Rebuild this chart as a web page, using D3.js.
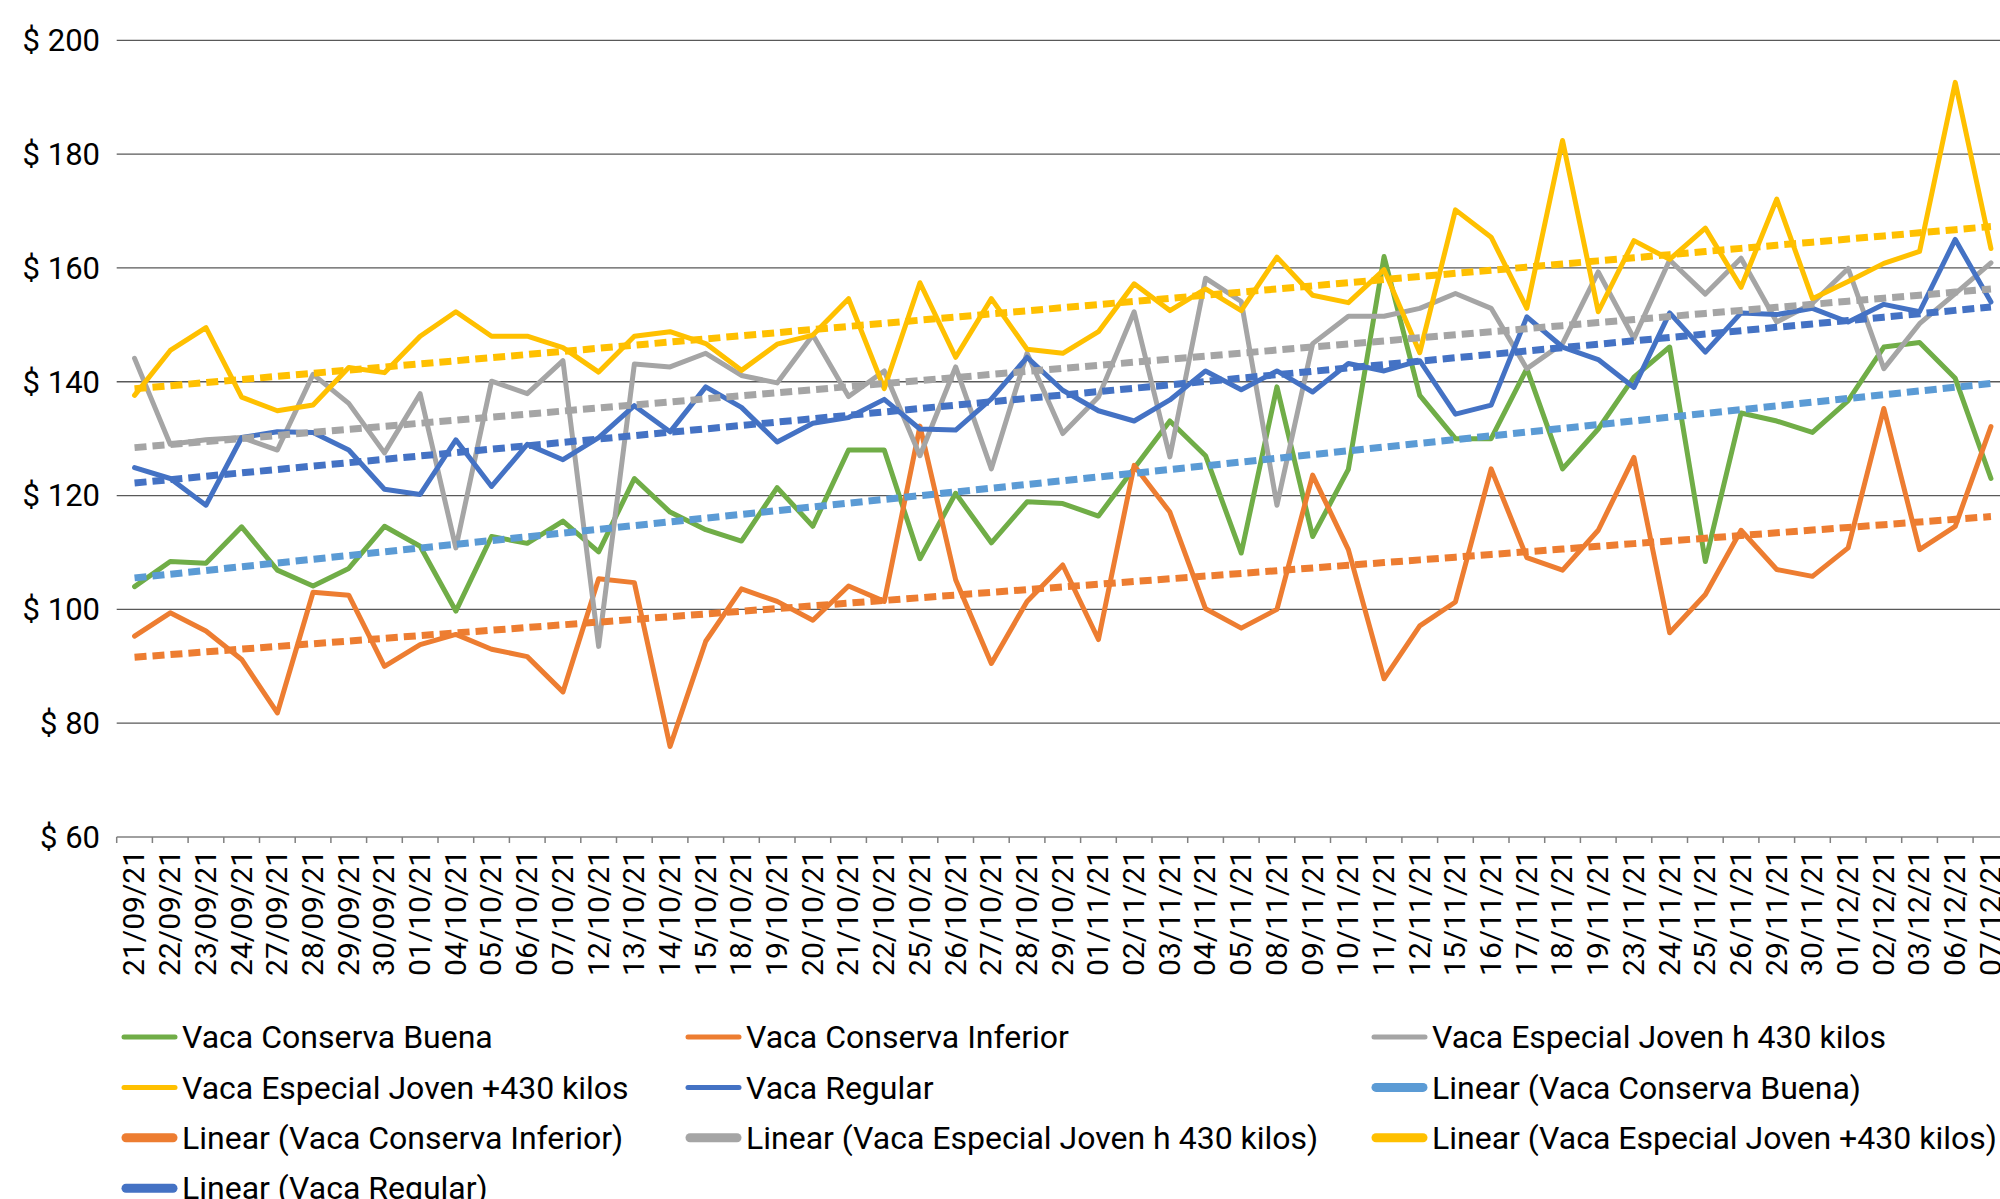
<!DOCTYPE html>
<html>
<head>
<meta charset="utf-8">
<script src="https://cdn.jsdelivr.net/npm/d3@7/dist/d3.min.js"></script>
<style>
    body { margin: 0; background: #fff; }
    svg text { font-family: Roboto, 'Noto Sans', sans-serif; fill: #000; }
</style>
</head>
<body>
<div id="chart"></div>
<script>
///// DATA
const dates = ['21/09/21', '22/09/21', '23/09/21', '24/09/21', '27/09/21', '28/09/21', '29/09/21', '30/09/21',
    '01/10/21', '04/10/21', '05/10/21', '06/10/21', '07/10/21', '12/10/21', '13/10/21', '14/10/21', '15/10/21',
    '18/10/21', '19/10/21', '20/10/21', '21/10/21', '22/10/21', '25/10/21', '26/10/21', '27/10/21', '28/10/21',
    '29/10/21', '01/11/21', '02/11/21', '03/11/21', '04/11/21', '05/11/21', '08/11/21', '09/11/21', '10/11/21',
    '11/11/21', '12/11/21', '15/11/21', '16/11/21', '17/11/21', '18/11/21', '19/11/21', '23/11/21', '24/11/21',
    '25/11/21', '26/11/21', '29/11/21', '30/11/21', '01/12/21', '02/12/21', '03/12/21', '06/12/21', '07/12/21'];

const conservaBuena = [104.0, 108.4, 108.1, 114.5, 106.9, 104.1, 107.2, 114.6, 111.1, 99.7,
    112.8, 111.6, 115.5, 110.1, 123.0, 117.1, 114.0, 112.0, 121.4, 114.6,
    128.0, 128.0, 108.9, 120.4, 111.7, 118.9, 118.6, 116.4, 124.8, 133.1,
    127.0, 109.9, 139.1, 112.8, 124.6, 162.0, 137.6, 130.0, 130.0, 142.3,
    124.7, 131.7, 140.8, 146.1, 108.4, 134.5, 133.1, 131.1, 136.7, 146.1,
    146.9, 140.6, 123.0];

const conservaInferior = [95.3, 99.4, 96.2, 91.2, 81.8, 103.0, 102.5, 90.0, 93.8, 95.6,
    93.0, 91.7, 85.5, 105.4, 104.7, 75.9, 94.4, 103.6, 101.4, 98.1,
    104.1, 101.4, 132.2, 105.2, 90.5, 101.4, 107.8, 94.7, 125.3, 117.1,
    100.1, 96.7, 100.0, 123.6, 110.5, 87.8, 97.1, 101.3, 124.7, 109.1,
    106.9, 113.9, 126.7, 95.9, 102.6, 113.9, 107.0, 105.8, 110.8, 135.3,
    110.5, 114.6, 132.1];

const especialHasta430 = [144.1, 129.0, 129.8, 130.2, 128.0, 141.3, 136.2, 127.5, 137.9, 110.8,
    140.1, 137.9, 143.7, 93.5, 143.1, 142.6, 145.0, 141.1, 139.8, 148.2,
    137.4, 141.9, 127.0, 142.6, 124.7, 145.0, 130.9, 137.3, 152.3, 126.8,
    158.2, 154.1, 118.3, 146.7, 151.5, 151.5, 152.9, 155.5, 152.9, 142.3,
    146.7, 159.3, 147.6, 161.4, 155.4, 161.7, 150.5, 153.8, 159.9, 142.3,
    150.2, 155.5, 160.9];

const especialMas430 = [137.6, 145.5, 149.5, 137.3, 134.9, 135.9, 142.5, 141.6, 148.0, 152.3,
    148.0, 148.0, 146.0, 141.7, 148.0, 148.8, 146.7, 142.0, 146.6, 148.2,
    154.6, 138.8, 157.4, 144.3, 154.6, 145.7, 145.0, 148.8, 157.2, 152.5,
    156.3, 152.5, 161.9, 155.2, 153.9, 159.7, 145.1, 170.2, 165.4, 152.9,
    182.4, 152.3, 164.8, 161.5, 167.0, 156.6, 172.1, 154.6, 157.6, 160.8,
    162.9, 192.6, 163.4];

const vacaRegular = [124.9, 123.0, 118.3, 130.2, 131.2, 131.1, 128.0, 121.1, 120.2, 129.8,
    121.6, 129.0, 126.3, 130.2, 135.8, 131.2, 139.1, 135.5, 129.4, 132.7,
    133.7, 136.9, 131.7, 131.5, 137.0, 144.3, 138.5, 134.9, 133.1, 136.8,
    141.9, 138.6, 141.9, 138.2, 143.2, 141.9, 143.7, 134.3, 135.9, 151.4,
    146.1, 143.9, 139.0, 152.1, 145.2, 152.1, 151.8, 152.9, 150.5, 153.6,
    152.3, 165.0, 154.0];

const yTicks = [60, 80, 100, 120, 140, 160, 180, 200];

const seriesNames = ['Vaca Conserva Buena', 'Vaca Conserva Inferior', 'Vaca Especial Joven h 430 kilos',
    'Vaca Especial Joven +430 kilos', 'Vaca Regular'];
const seriesValues = [conservaBuena, conservaInferior, especialHasta430, especialMas430, vacaRegular];
const seriesColors = ['#70AD47', '#ED7D31', '#A5A5A5', '#FFC000', '#4472C4'];
const trendColors = ['#5B9BD5', '#ED7D31', '#A5A5A5', '#FFC000', '#4472C4'];

///// LINEAR TREND (least squares on category index, like excel)
function linearTrend(vals) {
    const xs = vals.map((d, i) => i + 1);
    const mx = d3.mean(xs);
    const my = d3.mean(vals);
    let num = 0, den = 0;
    xs.forEach((x, i) => {
        num += (x - mx) * (vals[i] - my);
        den += (x - mx) * (x - mx);
    });
    const slope = num / den;
    const icpt = my - slope * mx;
    return xs.map(x => icpt + slope * x);
}

const WIDTH = 2000;
const HEIGHT = 1199;
const PLOT = { left: 116.7, top: 40.3, bottom: 837, band: 35.7 };

// MAIN SVG
const svg = d3.select('#chart').append('svg')
    .attr('width', WIDTH)
    .attr('height', HEIGHT);

svg.append('rect').attr('width', WIDTH).attr('height', HEIGHT).attr('fill', '#fff');

// SCALES
const x = d3.scaleBand()
    .domain(dates)
    .range([PLOT.left, PLOT.left + dates.length * PLOT.band])
    .padding(0);

const y = d3.scaleLinear()
    .domain([60, 200])
    .range([PLOT.bottom, PLOT.top]);

const xMid = d => x(d) + x.bandwidth() / 2;

// GRIDLINES
svg.append('g').attr('class', 'grid')
    .selectAll('line')
    .data(yTicks.filter(t => t !== 60))
    .enter()
    .append('line')
    .attr('x1', PLOT.left)
    .attr('x2', WIDTH)
    .attr('y1', d => y(d))
    .attr('y2', d => y(d))
    .attr('stroke', '#595959')
    .attr('stroke-width', 1.3);

// Y LABELS
svg.append('g').attr('class', 'y-labels')
    .selectAll('text')
    .data(yTicks)
    .enter()
    .append('text')
    .attr('x', 100)
    .attr('y', d => y(d))
    .attr('dy', '0.35em')
    .attr('text-anchor', 'end')
    .style('font-size', '31px')
    .text(d => '$ ' + d);

// X AXIS LINE + TICKS (between categories)
const xAxisG = svg.append('g').attr('class', 'x-axis');

xAxisG.append('line')
    .attr('x1', PLOT.left)
    .attr('x2', WIDTH)
    .attr('y1', y(60))
    .attr('y2', y(60))
    .attr('stroke', '#808080')
    .attr('stroke-width', 1.5);

xAxisG.selectAll('.tick-mark')
    .data(dates)
    .enter()
    .append('line')
    .attr('class', 'tick-mark')
    .attr('x1', d => x(d))
    .attr('x2', d => x(d))
    .attr('y1', y(60))
    .attr('y2', y(60) + 6)
    .attr('stroke', '#808080')
    .attr('stroke-width', 1.5);

// X LABELS
const xAxisCall = d3.axisBottom(x).tickSize(0).tickPadding(0);
const xLabels = svg.append('g')
    .attr('transform', `translate(0, ${y(60)})`)
    .call(xAxisCall);

xLabels.select('.domain').remove();
xLabels.selectAll('text')
    .attr('transform', 'rotate(-90)')
    .attr('x', -13)
    .attr('y', 0)
    .attr('dy', '0.33em')
    .attr('text-anchor', 'end')
    .attr('fill', '#000')
    .style('font-size', '30px')
    .style('font-family', 'Roboto, sans-serif');

// SERIES LINES
const line = d3.line()
    .x((d, i) => xMid(dates[i]))
    .y(d => y(d));

svg.append('g').attr('class', 'series')
    .selectAll('path')
    .data(seriesValues)
    .enter()
    .append('path')
    .attr('d', d => line(d))
    .attr('fill', 'none')
    .attr('stroke', (d, i) => seriesColors[i])
    .attr('stroke-width', 5)
    .attr('stroke-linejoin', 'round')
    .attr('stroke-linecap', 'round');

// TRENDLINES
svg.append('g').attr('class', 'trends')
    .selectAll('path')
    .data(seriesValues.map(linearTrend))
    .enter()
    .append('path')
    .attr('d', d => line(d))
    .attr('fill', 'none')
    .attr('stroke', (d, i) => trendColors[i])
    .attr('stroke-width', 7)
    .attr('stroke-dasharray', '12 6');

// LEGEND
const legendItems = seriesNames.map((n, i) => ({ name: n, color: seriesColors[i], trend: false }))
    .concat(seriesNames.map((n, i) => ({ name: `Linear (${n})`, color: trendColors[i], trend: true })));

const colX = [122, 686, 1372];
const rowY0 = 1037;
const rowStep = 50.4;

const legend = svg.append('g').attr('class', 'legend')
    .selectAll('g')
    .data(legendItems)
    .enter()
    .append('g')
    .attr('transform', (d, i) => `translate(${colX[i % 3]}, ${rowY0 + Math.floor(i / 3) * rowStep})`);

legend.append('line')
    .attr('x1', d => d.trend ? 4 : 2)
    .attr('x2', d => d.trend ? 51 : 53)
    .attr('y1', 0)
    .attr('y2', 0)
    .attr('stroke', d => d.color)
    .attr('stroke-width', d => d.trend ? 9 : 5)
    .attr('stroke-linecap', 'round');

legend.append('text')
    .attr('x', 60)
    .attr('y', 0)
    .attr('dy', '0.35em')
    .style('font-size', '32px')
    .text(d => d.name);
</script>
</body>
</html>
